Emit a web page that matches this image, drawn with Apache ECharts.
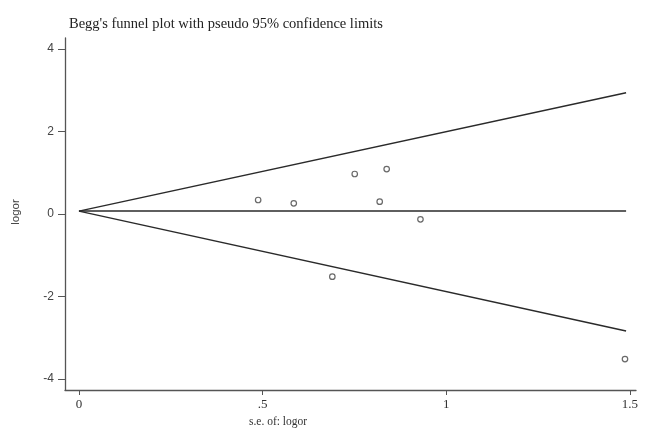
<!DOCTYPE html>
<html>
<head>
<meta charset="utf-8">
<script src="https://cdn.jsdelivr.net/npm/echarts@6/dist/echarts.min.js"></script>
<style>html,body{margin:0;padding:0;background:#fff;}#c{width:647px;height:428px;}</style>
</head>
<body>
<div id="c"></div>
<script>
// Study points
var seLogor = [0.488, 0.585, 0.751, 0.838, 0.819, 0.930, 0.690, 1.487];
var logor   = [0.34, 0.26, 0.97, 1.09, 0.30, -0.13, -1.52, -3.52];
// Funnel (pseudo 95% limits) and pooled estimate
var funnelSe    = [0, 1.49];
var upperLimit  = [0.07, 2.94];
var lowerLimit  = [0.07, -2.84];
var pooled      = [0.07, 0.07];
// Ticks
var xTicks = [0, 0.5, 1, 1.5];
var xTickLabels = ['0', '.5', '1', '1.5'];
var yTicks = [-4, -2, 0, 2, 4];
var yTickLabels = ['-4', '-2', '0', '2', '4'];

var chart = echarts.init(document.getElementById('c'), null, {renderer: 'canvas'});
function pairs(xs, ys){ return xs.map(function(x,i){ return [x, ys[i]]; }); }
var lineStyle = {color: '#2a2a2a', width: 1.5};
chart.setOption({
  backgroundColor: '#fff',
  animation: false,
  title: {
    text: "Begg's funnel plot with pseudo 95% confidence limits",
    left: 64, top: 12,
    textStyle: {fontFamily: 'Liberation Serif', fontSize: 14.5, fontWeight: 'normal', color: '#222'}
  },
  grid: {left: 65, right: 11, top: 38, bottom: 38},
  xAxis: {
    type: 'value', min: -0.038, max: 1.517,
    axisLine: {show: true, onZero: false, lineStyle: {color: '#555', width: 1.3}},
    axisTick: {show: true, length: 5, customValues: xTicks, lineStyle: {color: '#555'}},
    axisLabel: {
      customValues: xTicks, margin: 8,
      fontFamily: 'Liberation Serif', fontSize: 13, color: '#333',
      formatter: function(v){ var i = xTicks.indexOf(v); return i >= 0 ? xTickLabels[i] : ''; }
    },
    splitLine: {show: false}
  },
  yAxis: {
    type: 'value', min: -4.27, max: 4.27,
    axisLine: {show: true, onZero: false, lineStyle: {color: '#555', width: 1.3}},
    axisTick: {show: true, length: 7, customValues: yTicks, lineStyle: {color: '#555'}},
    axisLabel: {
      customValues: yTicks, margin: 11,
      fontFamily: 'Liberation Sans', fontSize: 12, color: '#444',
      formatter: function(v){ var i = yTicks.indexOf(v); return i >= 0 ? yTickLabels[i] : ''; }
    },
    splitLine: {show: false}
  },
  graphic: [
    {type: 'text', left: 249, top: 416,
     style: {text: 's.e. of: logor', font: '11.5px "Liberation Serif"', fill: '#333'}},
    {type: 'text', x: 16, y: 212, rotation: Math.PI/2,
     style: {text: 'logor', font: '11.5px "Liberation Sans"', fill: '#444', textAlign: 'center', textVerticalAlign: 'middle'}}
  ],
  series: [
    {type: 'line', data: pairs(funnelSe, upperLimit), symbol: 'none', lineStyle: lineStyle, silent: true},
    {type: 'line', data: pairs(funnelSe, lowerLimit), symbol: 'none', lineStyle: lineStyle, silent: true},
    {type: 'line', data: pairs(funnelSe, pooled), symbol: 'none', lineStyle: lineStyle, silent: true},
    {type: 'scatter', data: pairs(seLogor, logor), symbol: 'circle', symbolSize: 5.5,
     itemStyle: {color: '#fff', borderColor: '#444', borderWidth: 1.2}}
  ]
});
</script>
</body>
</html>
